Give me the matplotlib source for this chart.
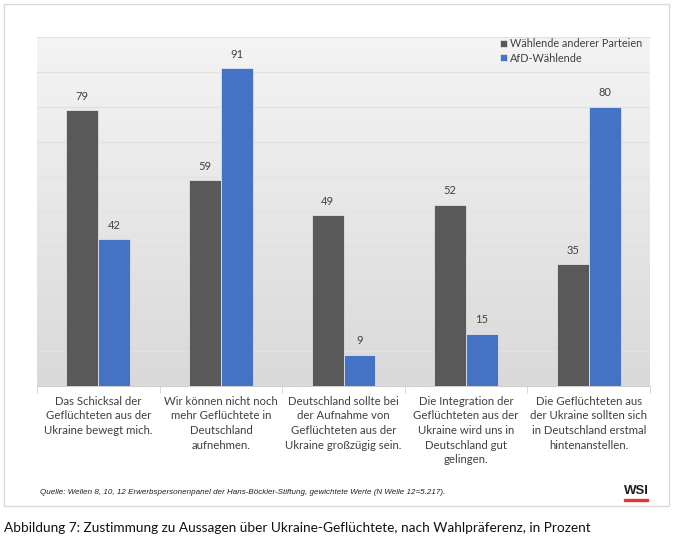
import numpy as np
import matplotlib.pyplot as plt
from matplotlib.patches import Rectangle

categories = [
    "Das Schicksal der\nGeflüchteten aus der\nUkraine bewegt mich.",
    "Wir können nicht noch\nmehr Geflüchtete in\nDeutschland\naufnehmen.",
    "Deutschland sollte bei\nder Aufnahme von\nGeflüchteten aus der\nUkraine großzügig sein.",
    "Die Integration der\nGeflüchteten aus der\nUkraine wird uns in\nDeutschland gut\ngelingen.",
    "Die Geflüchteten aus\nder Ukraine sollten sich\nin Deutschland erstmal\nhintenanstellen.",
]
andere = [79, 59, 49, 52, 35]
afd = [42, 91, 9, 15, 80]
series_names = ["Wählende anderer Parteien", "AfD-Wählende"]
source = "Quelle: Wellen 8, 10, 12 Erwerbspersonenpanel der Hans-Böckler-Stiftung, gewichtete Werte (N Welle 12=5.217)."
caption = "Abbildung 7: Zustimmung zu Aussagen über Ukraine-Geflüchtete, nach Wahlpräferenz, in Prozent"

plt.rcParams['font.family'] = ['Lato', 'DejaVu Sans']

fig = plt.figure(figsize=(6.8, 5.42), dpi=100)

# outer frame
fig.patches.append(Rectangle((4 / 680, 1 - 506 / 542), 665 / 680, 502 / 542,
                             transform=fig.transFigure, fill=False,
                             edgecolor='#d9d9d9', lw=1))

ax = fig.add_axes([37 / 680, 1 - 386 / 542, 613 / 680, 349 / 542])

# gradient background
grad = np.linspace(0, 1, 256).reshape(-1, 1)
ax.imshow(grad, extent=[0, 1, 0, 1], transform=ax.transAxes, aspect='auto',
          cmap=plt.matplotlib.colors.LinearSegmentedColormap.from_list('bg', ['#f4f4f4', '#d9d9d9']),
          origin='upper', zorder=0)

x = np.arange(len(categories))
w = 0.26
b1 = ax.bar(x - w / 2, andere, w, color='#595959', edgecolor='#eeeeee', lw=0.5,
            label=series_names[0], zorder=3)
b2 = ax.bar(x + w / 2, afd, w, color='#4472c4', edgecolor='#eeeeee', lw=0.5,
            label=series_names[1], zorder=3)
for bars in (b1, b2):
    ax.bar_label(bars, padding=6, fontsize=8, color='#404040')

ax.set_xlim(-0.5, len(categories) - 0.5)
ax.set_ylim(0, 100)
ax.set_yticks(np.arange(0, 101, 10))
ax.yaxis.grid(True, color='#e2e2e2', lw=1, zorder=1)
ax.set_axisbelow(True)
ax.tick_params(axis='y', left=False, labelleft=False)

ax.set_xticks(x)
ax.set_xticklabels(categories, fontsize=8.2, color='#404040', linespacing=1.4)
ax.tick_params(axis='x', length=0, pad=7)
ax.set_xticks(np.arange(-0.5, len(categories), 1), minor=True)
ax.tick_params(axis='x', which='minor', length=5, color='#d0d0d0')

for s in ['top', 'left', 'right']:
    ax.spines[s].set_visible(False)
ax.spines['bottom'].set_color('#d0d0d0')

leg = ax.legend(loc='upper left', bbox_to_anchor=(0.745, 1.015), frameon=False,
                fontsize=7.8, handlelength=0.6, handleheight=0.6, handletextpad=0.3,
                labelspacing=0.3, borderaxespad=0.2)
for t in leg.get_texts():
    t.set_color('#404040')

fig.text(40 / 680, 1 - 492 / 542, source, fontsize=5.75, style='italic',
         family='Liberation Sans', va='center', color='#202020')
fig.text(636 / 680, 1 - 491 / 542, "WSI", fontsize=9.5, weight='bold',
         family='Liberation Sans', ha='center', va='center', color='#202020')
fig.patches.append(Rectangle((624 / 680, 1 - 501 / 542), 24 / 680, 2 / 542,
                             transform=fig.transFigure, color='#e2382b'))

fig.text(4 / 680, 1 - 528 / 542, caption, fontsize=9.8, va='center', color='#111111')

fig.savefig('out.png', dpi=100)
